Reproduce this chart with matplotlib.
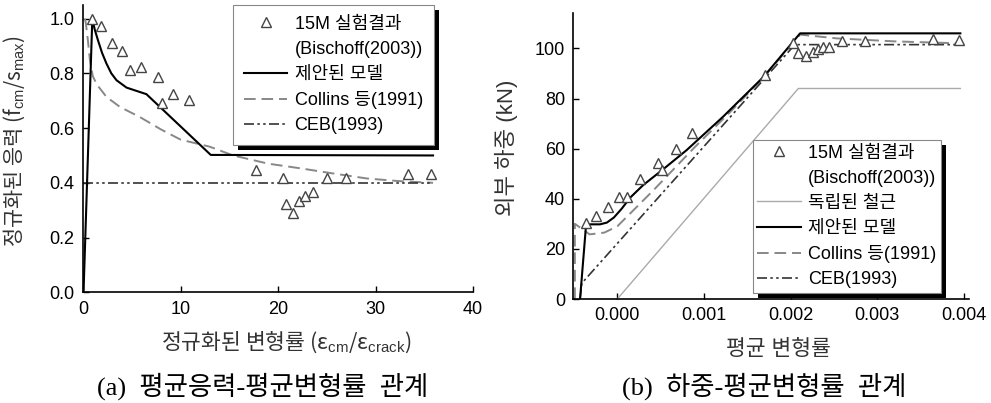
import matplotlib
matplotlib.use("Agg")
import matplotlib.pyplot as plt
from matplotlib.lines import Line2D
from matplotlib.patches import Rectangle

plt.rcParams['font.family'] = ['Liberation Sans', 'Noto Sans CJK KR', 'DejaVu Sans']
plt.rcParams['mathtext.fontset'] = 'custom'
plt.rcParams['mathtext.rm'] = 'Liberation Sans'
plt.rcParams['mathtext.it'] = 'Liberation Sans:italic'

# ---- (a) normalized stress vs normalized strain
test_a_x = [0.96, 1.82, 3.0, 4.04, 4.79, 5.99, 7.7, 8.11, 9.24, 10.9,
            17.7, 20.5, 20.8, 21.56, 22.2, 22.76, 23.6, 25.0, 27.0, 33.3, 35.7]
test_a_y = [1.0, 0.972, 0.911, 0.882, 0.811, 0.824, 0.785, 0.691, 0.723, 0.703,
            0.448, 0.417, 0.321, 0.291, 0.332, 0.353, 0.367, 0.418, 0.418, 0.433, 0.433]

model_a_x = [0.05, 0.95, 1.2, 1.54, 1.95, 2.4, 2.9, 3.43, 4.46, 5.82, 6.5, 13.1, 35.9]
model_a_y = [0.0, 1.0, 0.96, 0.92, 0.875, 0.836, 0.80, 0.775, 0.748, 0.732, 0.724, 0.502, 0.5]

collins_a_x = [0.2, 0.3, 0.5, 0.7, 1.0, 1.4, 2.4, 3.8, 5.8, 8.0, 10.0, 13.0,
               15.4, 19.0, 22.3, 25.7, 29.1, 32.5, 35.9]
collins_a_y = [1.0, 0.98, 0.92, 0.85, 0.79, 0.76, 0.714, 0.677, 0.641, 0.595, 0.558, 0.532,
               0.50, 0.47, 0.453, 0.434, 0.416, 0.406, 0.40]

ceb_a_x = [0.0, 35.9]
ceb_a_y = [0.4, 0.4]

# ---- (b) load vs average strain
test_b_x = [-0.000361, -0.000249, -0.000104, 0.000023, 0.000108, 0.000262, 0.000473,
            0.00052, 0.000674, 0.000859, 0.001706, 0.00203, 0.00209, 0.00218, 0.00226,
            0.00232, 0.00238, 0.00244, 0.00259, 0.00286, 0.00364, 0.00395]
test_b_y = [30.4, 33.1, 36.7, 40.6, 40.8, 47.7, 54.4, 51.5, 59.7, 66.3, 89.2, 102.0,
            98.3, 96.9, 98.7, 99.6, 100.4, 100.6, 103.0, 103.0, 103.6, 103.3]

bare_b_x = [0.0, 0.00209, 0.00396]
bare_b_y = [0.0, 84.0, 84.0]

model_b_x = [-0.00043, -0.00036, -0.0002, -0.00012, -0.00004, 0.00005, 0.00015,
             0.0003, 0.00052, 0.0008, 0.00122, 0.00169, 0.00211, 0.00396]
model_b_y = [0.0, 29.8, 29.8, 30.5, 32.5, 36.0, 40.5, 45.5, 51.5, 59.4, 72.7, 88.7, 106.0, 106.0]

collins_b_x = [-0.00049, -0.00049, -0.00032, -0.00015, 0.0, 0.00011, 0.00042, 0.00088,
               0.0013, 0.00169, 0.00211, 0.00253, 0.0032, 0.00396]
collins_b_y = [0.0, 30.0, 25.8, 26.5, 29.0, 32.8, 43.5, 60.1, 74.5, 88.5, 105.5, 104.0, 102.8, 102.0]

ceb_b_x = [-0.00043, -0.00041, 0.00205, 0.00396]
ceb_b_y = [0.0, 6.3, 101.5, 101.5]

lbl_test = '15M 실험결과'
lbl_ref = '(Bischoff(2003))'
lbl_bare = '독립된 철근'
lbl_model = '제안된 모델'
lbl_collins = 'Collins 등(1991)'
lbl_ceb = 'CEB(1993)'

fig = plt.figure(figsize=(9.91, 4.03), dpi=100)
ax1 = fig.add_axes([0.0838, 0.2747, 0.3935, 0.713])
ax2 = fig.add_axes([0.5785, 0.258, 0.3993, 0.709])
for ax in (ax1, ax2):
    ax.patch.set_visible(False)

tri = dict(marker='^', ms=7.5, mfc='white', mec='#444444', mew=1.0, ls='none')
st_model = dict(color='black', lw=1.5)
st_collins = dict(color='#888888', lw=1.4, ls=(0, (6, 3)))
st_ceb = dict(color='#333333', lw=1.2, ls=(0, (6, 2, 1.5, 2, 1.5, 2)))
st_bare = dict(color='#aaaaaa', lw=1.0)


def style_axes(ax):
    for s in ['top', 'right']:
        ax.spines[s].set_visible(False)
    for s in ['left', 'bottom']:
        ax.spines[s].set_linewidth(1.2)
    ax.tick_params(direction='in', length=4, width=1, labelsize=13, pad=6)


def add_legend(ax, handles, labels, anchor, loc, pad):
    leg = ax.legend(handles, labels, loc=loc, bbox_to_anchor=anchor, fontsize=13,
                    frameon=True, fancybox=False, framealpha=1, edgecolor='#888888',
                    handlelength=2.4, handletextpad=0.4, labelspacing=0.45,
                    borderpad=pad, borderaxespad=0)
    leg.get_frame().set_linewidth(0.8)
    return leg


# ---- panel (a)
ax1.plot(collins_a_x, collins_a_y, **st_collins)
ax1.plot(ceb_a_x, ceb_a_y, **st_ceb)
ax1.plot(model_a_x, model_a_y, **st_model)
ax1.plot(test_a_x, test_a_y, **tri)
ax1.set_xlim(0, 40)
ax1.set_ylim(0, 1.05)
ax1.set_xticks([0, 10, 20, 30, 40])
ax1.set_yticks([0.0, 0.2, 0.4, 0.6, 0.8, 1.0])
ax1.set_yticklabels(['0.0', '0.2', '0.4', '0.6', '0.8', '1.0'])
style_axes(ax1)
ax1.set_ylabel('정규화된 응력 (f$_{\\mathrm{cm}}$/s$_{\\mathrm{max}}$)', fontsize=15,
               fontfamily=['Noto Sans CJK KR'], color='#333333')
ax1.yaxis.set_label_coords(-0.145, 0.525)
ax1.set_xlabel('정규화된 변형률 (ε$_{\\mathrm{cm}}$/ε$_{\\mathrm{crack}}$)', fontsize=15.5,
               fontfamily=['Noto Sans CJK KR'], color='#333333')
ax1.xaxis.set_label_coords(0.52, -0.13)

h_test = Line2D([], [], **tri)
h_blank = Line2D([], [], ls='none')
h_model = Line2D([], [], **st_model)
h_collins = Line2D([], [], **st_collins)
h_ceb = Line2D([], [], **st_ceb)
h_bare = Line2D([], [], **st_bare)

leg1 = add_legend(ax1, [h_test, h_blank, h_model, h_collins, h_ceb],
                  [lbl_test, lbl_ref, lbl_model, lbl_collins, lbl_ceb],
                  (0.385, 1.0), 'upper left', 0.6)

# ---- panel (b)
ax2.plot(bare_b_x, bare_b_y, **st_bare)
ax2.plot(collins_b_x, collins_b_y, **st_collins)
ax2.plot(ceb_b_x, ceb_b_y, **st_ceb)
ax2.plot(model_b_x, model_b_y, **st_model)
ax2.plot(test_b_x, test_b_y, **tri)
ax2.set_xlim(-0.000508, 0.00406)
ax2.set_ylim(0, 114)
ax2.set_xticks([0.0, 0.001, 0.002, 0.003, 0.004])
ax2.set_xticklabels(['0.000', '0.001', '0.002', '0.003', '0.004'])
ax2.set_yticks([0, 20, 40, 60, 80, 100])
style_axes(ax2)
ax2.set_ylabel('외부 하중 (kN)', fontsize=16, color='#333333')
ax2.yaxis.set_label_coords(-0.14, 0.53)
ax2.set_xlabel('평균 변형률', fontsize=15.5, color='#333333')
ax2.xaxis.set_label_coords(0.518, -0.14)

leg2 = add_legend(ax2, [h_test, h_blank, h_bare, h_model, h_collins, h_ceb],
                  [lbl_test, lbl_ref, lbl_bare, lbl_model, lbl_collins, lbl_ceb],
                  (0.453, 0.021), 'lower left', 0.27)

# black drop shadow behind each legend box (drawn at figure level, under the axes)
fig.canvas.draw()
for leg in (leg1, leg2):
    bb = leg.get_frame().get_window_extent()
    fb = bb.transformed(fig.transFigure.inverted())
    dx = 5 / fig.bbox.width
    dy = 5 / fig.bbox.height
    fig.patches.append(Rectangle((fb.x0 + dx, fb.y0 - dy), fb.width, fb.height,
                                 transform=fig.transFigure, figure=fig,
                                 facecolor='black', edgecolor='none', zorder=-1))

cap_font = ['Liberation Serif', 'Noto Sans CJK KR']
fig.text(0.265, 0.042, '(a)  평균응력-평균변형률  관계', ha='center', va='center',
         fontsize=19, family=cap_font)
fig.text(0.771, 0.042, '(b)  하중-평균변형률  관계', ha='center', va='center',
         fontsize=19, family=cap_font)

fig.savefig('out.png', dpi=100)
